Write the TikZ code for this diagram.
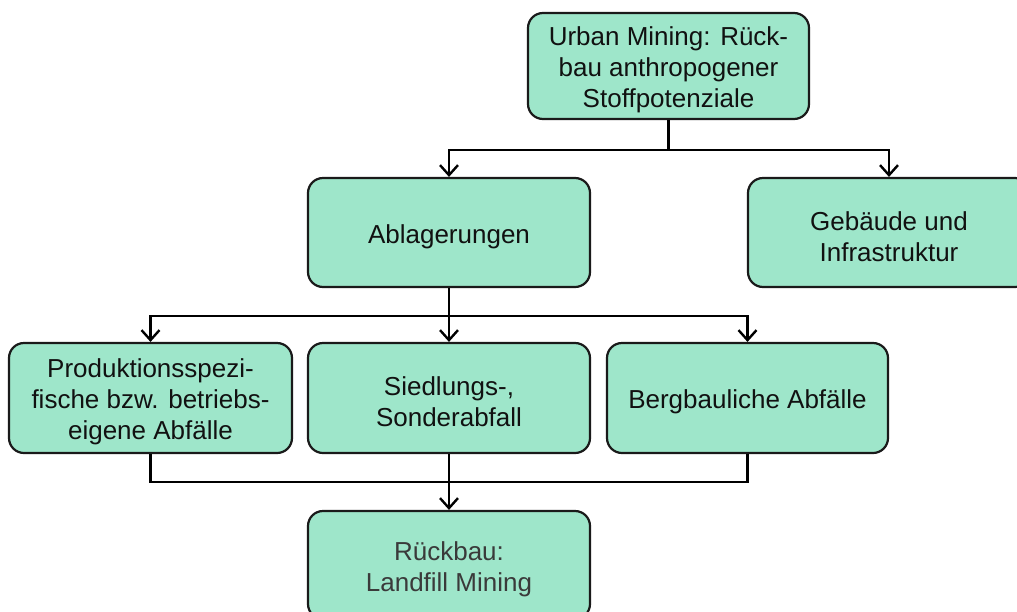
\documentclass[tikz,border=0pt]{standalone}
\usepackage{fontspec}
\setmainfont{Liberation Sans}
\usetikzlibrary{arrows.meta}
\definecolor{boxfill}{HTML}{9EE6CA}
\definecolor{boxline}{HTML}{1A1A1A}
\definecolor{txt}{HTML}{111111}
\definecolor{txtgray}{HTML}{3A3A3A}
\tikzset{
  box/.style={draw=boxline, line width=2.2pt, fill=boxfill, rounded corners=15pt,
    rectangle, inner sep=0pt},
  boxtext/.style={align=center, text=txt, inner sep=0pt, yshift=-4pt,
    font=\fontsize{26pt}{31pt}\selectfont},
  conn/.style={draw=black, line width=2.4pt},
  arr/.style={conn, -{Straight Barb[length=10pt,width=18pt,line width=2.4pt]}}
}
\begin{document}
\begin{tikzpicture}[x=1pt,y=-1pt]
\clip (0,0) rectangle (1017,611);
\fill[white] (0,0) rectangle (1017,611);
\node[box, minimum width=281pt, minimum height=106pt,
  label={[boxtext]center:{Urban Mining: Rück-\\bau anthropogener\\Stoffpotenziale}}] (top) at (668.5,66) {};
\node[box, minimum width=282pt, minimum height=109pt,
  label={[boxtext]center:{Ablagerungen}}] (abl) at (449,232.5) {};
\node[box, minimum width=282pt, minimum height=109pt,
  label={[boxtext]center:{Gebäude und\\Infrastruktur}}] (geb) at (889,232.5) {};
\node[box, minimum width=283pt, minimum height=110pt,
  label={[boxtext]center:{Produktionsspezi-\\fische bzw. betriebs-\\eigene Abfälle}}] (prod) at (150.5,398) {};
\node[box, minimum width=282pt, minimum height=110pt,
  label={[boxtext]center:{Siedlungs-,\\Sonderabfall}}] (sied) at (449,398) {};
\node[box, minimum width=281pt, minimum height=110pt,
  label={[boxtext]center:{Bergbauliche Abfälle}}] (berg) at (747.5,398) {};
\node[box, minimum width=282pt, minimum height=108pt,
  label={[boxtext, text=txtgray]center:{Rückbau:\\Landfill Mining}}] (rueck) at (449,565) {};
\coordinate (j1) at (668.5,150);
\coordinate (j2) at (449,316);
\coordinate (j3) at (449,482);
\draw[conn] (top.south) -- (j1);
\draw[arr] (j1) -| (abl.north);
\draw[arr] (j1) -| (geb.north);
\draw[arr] (abl.south) -- (sied.north);
\draw[arr] (j2) -| (prod.north);
\draw[arr] (j2) -| (berg.north);
\draw[conn] (prod.south) |- (j3);
\draw[conn] (berg.south) |- (j3);
\draw[arr] (sied.south) -- (rueck.north);
\end{tikzpicture}
\end{document}
